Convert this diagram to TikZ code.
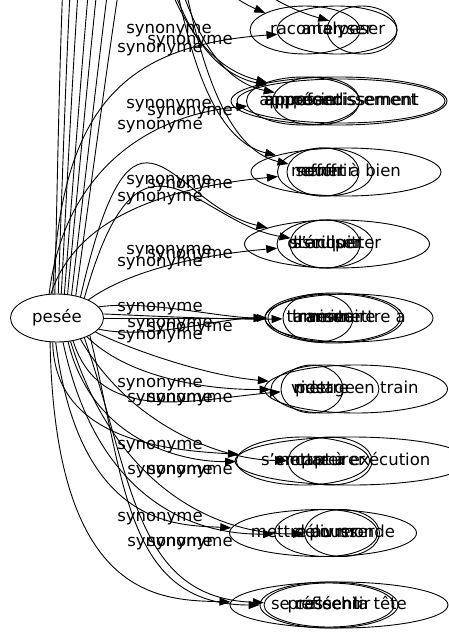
\documentclass[tikz,border=0pt]{standalone}
\usepackage{fontspec}
\setmainfont{DejaVu Sans}
\usetikzlibrary{shapes.geometric,arrows.meta}
\newcommand{\ztxt}[1]{\makebox[0pt]{#1}}
\begin{document}
\begin{tikzpicture}[x=1pt,y=-1pt,
  wnode/.style={ellipse,draw,line width=0.9pt,inner sep=0pt,minimum height=48pt,text height=12pt,text depth=3.5pt,font=\fontsize{16.5}{18}\selectfont},
  lbl/.style={inner sep=0pt,text height=12pt,text depth=3.5pt,font=\fontsize{16.5}{18}\selectfont},
  syn/.style={draw,line width=0.9pt,-{Triangle[length=11pt,width=8pt]}}]
\useasboundingbox (0,0) rectangle (449,635);
\clip (0,0) rectangle (449,635);
% source
\node[wnode,minimum width=93pt] (pesee) at (57,318) {\ztxt{pesée}};
% cluster 1
\node[wnode,minimum width=110pt] (a1) at (305,30) {\ztxt{raconter}};
\node[wnode,minimum width=120pt] (a2) at (337,30) {\ztxt{analyser}};
\node[wnode,minimum width=70pt] (a3) at (362,30) {\ztxt{peser}};
% cluster 2
\node[wnode,minimum width=216pt] (b1) at (339,101) {\ztxt{approfondissement}};
\node[wnode,minimum width=208pt,minimum height=44pt] (b2) at (341,101) {\ztxt{appesantissement}};
\node[wnode,minimum width=113pt] (b3) at (303,101) {\ztxt{apprécier}};
\node[wnode,minimum width=87pt] (b4) at (316,101) {\ztxt{poser}};
% cluster 3
\node[wnode,minimum width=190pt] (c1) at (346,172) {\ztxt{mener à bien}};
\node[wnode,minimum width=95pt] (c2) at (325,172) {\ztxt{souffrir}};
\node[wnode,minimum width=72pt] (c3) at (323,172) {\ztxt{effort}};
% cluster 4
\node[wnode,minimum width=185pt] (d1) at (337,244) {\ztxt{s'acquitter}};
\node[wnode,minimum width=96pt] (d2) at (325,244) {\ztxt{stériliser}};
\node[wnode,minimum width=70pt] (d3) at (325,244) {\ztxt{disculper}};
% cluster 5
\node[wnode,minimum width=168pt] (e1) at (349,318) {\ztxt{transmettre à}};
\node[wnode,minimum width=132pt] (e2) at (334,318) {\ztxt{inventaire}};
\node[wnode,minimum width=138pt,minimum height=50pt] (e3) at (334,318) {\ztxt{arriver}};
\node[wnode,minimum width=70pt] (e4) at (318,318) {\ztxt{tamiser}};
% cluster 6
\node[wnode,minimum width=183pt] (f1) at (356,389) {\ztxt{mettre en train}};
\node[wnode,minimum width=108pt] (f2) at (325,389) {\ztxt{pesage}};
\node[wnode,minimum width=62pt] (f3) at (312,389) {\ztxt{vider}};
% cluster 7
\node[wnode,minimum width=234pt] (g1) at (352,461) {\ztxt{mettre à exécution}};
\node[wnode,minimum width=133pt] (g2) at (303,461) {\ztxt{s'emparer}};
\node[wnode,minimum width=84pt] (g3) at (330,461) {\ztxt{capturer}};
% cluster 8
\node[wnode,minimum width=187pt,minimum height=47pt] (h1) at (323,533) {\ztxt{mettre au monde}};
\node[wnode,minimum width=103pt,minimum height=47pt] (h2) at (326,533) {\ztxt{délivrer}};
\node[wnode,minimum width=75pt,minimum height=47pt] (h3) at (342,533) {\ztxt{pousser}};
% cluster 9
\node[wnode,minimum width=218pt,minimum height=46pt] (i1) at (339,605) {\ztxt{se casser la tête}};
\node[wnode,minimum width=138pt,minimum height=46pt] (i2) at (329,605) {\ztxt{pressentir}};
\node[wnode,minimum width=130pt,minimum height=44pt] (i3) at (329,605) {\ztxt{réfléchir}};
% edges cluster 1
\draw[syn] (pesee.95) .. controls (63,-100) and (66,-200) .. (100,-200) .. controls (140,-200) and (165,-30) .. (a1) node[lbl] at (169,29) {synonyme};
\draw[syn] (pesee.100) .. controls (60,100) and (130,45) .. (a2) node[lbl] at (190,40) {synonyme};
\draw[syn] (pesee.87) .. controls (72,-100) and (75,-190) .. (110,-190) .. controls (150,-190) and (185,-20) .. (a3) node[lbl] at (160,48) {synonyme};
% edges cluster 2
\draw[syn] (pesee.80) .. controls (82,-100) and (85,-180) .. (115,-180) .. controls (145,-180) and (140,50) .. (b1) node[lbl] at (169,104) {synonyme};
\draw[syn] (pesee.73) .. controls (95,-100) and (98,-170) .. (125,-170) .. controls (150,-170) and (150,60) .. (b2) node[lbl] at (190,111) {synonyme};
\draw[syn] (pesee.108) .. controls (64,170) and (150,115) .. (b3) node[lbl] at (160,125) {synonyme};
\draw[syn] (pesee.66) .. controls (105,-100) and (108,-160) .. (135,-160) .. controls (160,-160) and (165,70) .. (b4);
% edges cluster 3
\draw[syn] (pesee.58) .. controls (118,-100) and (120,-140) .. (145,-140) .. controls (170,-140) and (170,130) .. (c1) node[lbl] at (169,180) {synonyme};
\draw[syn] (pesee.104) .. controls (75,220) and (160,188) .. (c2) node[lbl] at (190,184) {synonyme};
\draw[syn] (pesee.50) .. controls (130,-100) and (132,-120) .. (155,-120) .. controls (180,-120) and (185,140) .. (c3) node[lbl] at (160,197) {synonyme};
% edges cluster 4
\draw[syn] (pesee.42) .. controls (135,60) and (170,205) .. (d1) node[lbl] at (169,250) {synonyme};
\draw[syn] (pesee.30) .. controls (130,270) and (200,255) .. (d2) node[lbl] at (190,254) {synonyme};
\draw[syn] (pesee.36) .. controls (140,100) and (195,222) .. (d3) node[lbl] at (160,262) {synonyme};
% edges cluster 5
\draw[syn] (pesee) -- (e1) node[lbl] at (160,307) {synonyme};
\draw[syn] (pesee.15) .. controls (150,300) and (220,318) .. (e2) node[lbl] at (170,323) {synonyme};
\draw[syn] (pesee.-15) .. controls (150,340) and (220,318) .. (e3) node[lbl] at (190,327) {synonyme};
\draw[syn] (pesee.5) .. controls (130,315) and (230,320) .. (e4) node[lbl] at (160,335) {synonyme};
% edges cluster 6
\draw[syn] (pesee.-20) .. controls (120,345) and (200,375) .. (f1) node[lbl] at (160,383) {synonyme};
\draw[syn] (pesee.-32) .. controls (125,375) and (200,390) .. (f2) node[lbl] at (170,398) {synonyme};
\draw[syn] (pesee.-55) .. controls (100,425) and (190,400) .. (f3) node[lbl] at (190,398) {synonyme};
% edges cluster 7
\draw[syn] (pesee.-100) .. controls (55,440) and (165,450) .. (g1) node[lbl] at (160,445) {synonyme};
\draw[syn] (pesee.-65) .. controls (92,440) and (180,462) .. (g2) node[lbl] at (170,470) {synonyme};
\draw[syn] (pesee.-42) .. controls (130,425) and (220,460) .. (g3) node[lbl] at (190,470) {synonyme};
% edges cluster 8
\draw[syn] (pesee.-93) .. controls (80,530) and (180,525) .. (h1) node[lbl] at (160,517) {synonyme};
\draw[syn] (pesee.-76) .. controls (100,515) and (210,535) .. (h2) node[lbl] at (170,542) {synonyme};
\draw[syn] (pesee.-60) .. controls (122,505) and (235,535) .. (h3) node[lbl] at (190,542) {synonyme};
% edges cluster 9
\draw[syn] (pesee.-106) .. controls (55,600) and (160,600) .. (i1);
\draw[syn] (pesee.-28) .. controls (125,480) and (125,605) .. (i2);
\draw[syn] (pesee.-36) .. controls (133,480) and (135,598) .. (i3);
\end{tikzpicture}
\end{document}
